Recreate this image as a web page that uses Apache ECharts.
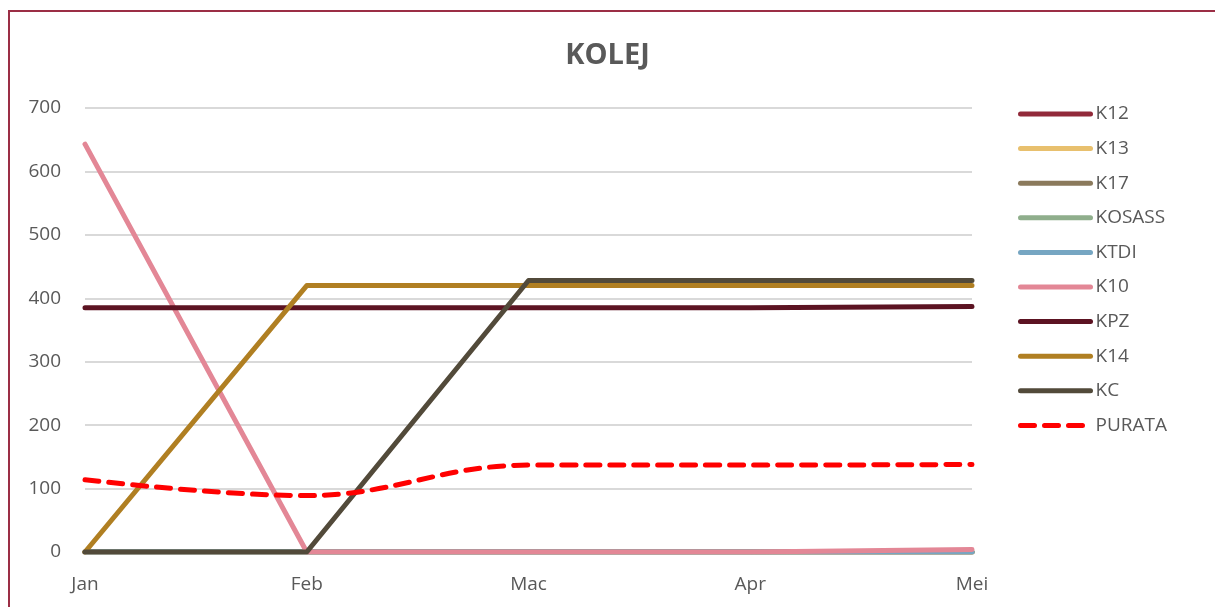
<!DOCTYPE html>
<html>
<head>
<meta charset="utf-8">
<script src="https://cdn.jsdelivr.net/npm/echarts@6/dist/echarts.min.js"></script>
<style>
  html, body { margin: 0; padding: 0; background: #fff; overflow: hidden; }
  .frame {
    position: absolute; left: 8px; top: 10px;
    width: 1220px; height: 620px;
    border: 2px solid #9b2e45; box-sizing: border-box;
  }
  #chart { position: absolute; left: 0; top: 0; width: 1215px; height: 607px; }
</style>
</head>
<body>
<div class="frame"></div>
<div id="chart"></div>
<script>
// bulan
const months = ['Jan', 'Feb', 'Mac', 'Apr', 'Mei']

// nilai setiap kolej
const k12 = [0, 0, 0, 0, 0]
const k13 = [0, 0, 0, 0, 0]
const k17 = [0, 0, 0, 0, 0]
const kosass = [0, 0, 0, 0, 0]
const ktdi = [0, 0, 0, 0, 0]
const k10 = [643, 0, 0, 0, 4]
const kpz = [385, 385, 385, 385, 387]
const k14 = [0, 420, 420, 420, 420]
const kc = [0, 0, 428, 428, 428]
const purata = [114, 89, 137, 137, 138]

const names = ['K12', 'K13', 'K17', 'KOSASS', 'KTDI', 'K10', 'KPZ', 'K14', 'KC', 'PURATA']
const values = [k12, k13, k17, kosass, ktdi, k10, kpz, k14, kc, purata]
const colors = ['#922a3a', '#e8c06e', '#8b7a5c', '#8fae8c', '#76a6c2', '#e38796', '#5c1322', '#b07f22', '#524a3a', '#ff0000']

const font = '"Open Sans", sans-serif'

const series = names.map((n, i) => {
  const s = {
    name: n,
    type: 'line',
    data: values[i],
    symbol: 'none',
    showSymbol: false,
    lineStyle: { color: colors[i], width: 5, cap: 'round', join: 'round' },
    itemStyle: { color: colors[i] },
  }
  if (n === 'PURATA') {
    s.smooth = 0.4
    s.lineStyle.type = [14, 10]
  }
  return s
})

const chart = echarts.init(document.getElementById('chart'))
chart.setOption({
  animation: false,
  title: {
    text: 'KOLEJ',
    left: 'center',
    top: 36,
    textStyle: { color: '#595959', fontSize: 29, fontWeight: 'bold', fontFamily: font },
  },
  legend: {
    orient: 'vertical',
    left: 1013,
    top: 99,
    itemWidth: 70,
    itemHeight: 12,
    itemGap: 14.6,
    itemStyle: { opacity: 0 },
    lineStyle: { width: 5, cap: 'round' },
    textStyle: { color: '#595959', fontSize: 19, lineHeight: 20, fontFamily: font },
    data: names,
  },
  grid: { left: 85, right: 243, top: 108, bottom: 55, containLabel: false },
  xAxis: {
    type: 'category',
    data: months,
    boundaryGap: false,
    axisLine: { show: true, lineStyle: { color: '#d9d9d9', width: 1 } },
    axisTick: { show: false },
    axisLabel: { color: '#595959', fontSize: 19, fontFamily: font, margin: 23 },
  },
  yAxis: {
    type: 'value',
    min: 0,
    max: 700,
    interval: 100,
    axisLine: { show: false },
    axisTick: { show: false },
    splitLine: { lineStyle: { color: '#d9d9d9', width: 2 } },
    axisLabel: { color: '#595959', fontSize: 19, fontFamily: font, margin: 24 },
  },
  series: series,
})
</script>
</body>
</html>
